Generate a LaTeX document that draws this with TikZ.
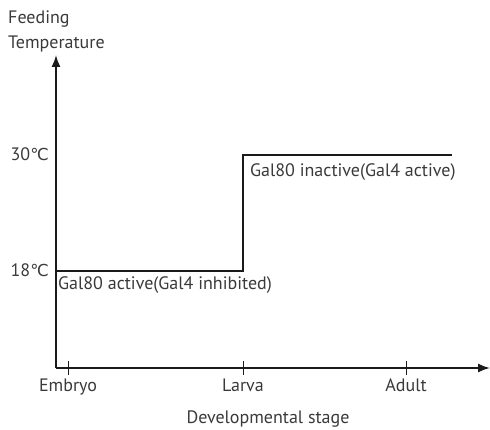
\documentclass[tikz,border=0pt]{standalone}
\usepackage{fontspec}
\setmainfont{PT Sans}
\newfontfamily\degfont{DejaVu Sans}
\usetikzlibrary{arrows.meta}
\definecolor{Label}{HTML}{3A3A3A}
\definecolor{Axis}{HTML}{1A1A1A}
\newcommand{\celsius}{{\degfont\fontsize{16.5}{18}\selectfont\char"2103}}

\begin{document}
\begin{tikzpicture}[x=1pt,y=-1pt]
    \useasboundingbox (0,0) rectangle (490,430);
    \tikzset{
      lbl/.style={text=Label,inner sep=0pt,font=\fontsize{18}{20}\selectfont},
      axis/.style={draw=Axis,line width=1.6pt,-{Latex[length=12pt,width=9pt]}},
      level/.style={draw=Axis,line width=1.6pt}
    }
    \coordinate (origin) at (56,368);
    \coordinate (ytip) at (56,55);
    \coordinate (xtip) at (490,368);

    \draw[axis] (origin) -- (ytip);
    \draw[axis] (origin) -- (xtip);

    \foreach \x/\name/\lab in {68/embryo/Embryo,243/larva/Larva,406/adult/Adult}{
      \draw[Axis,line width=1pt] (\x,361) -- (\x,375);
      \node[lbl,anchor=base] (\name) at (\x,391) {\lab};
    }

    \draw[level] (56,271) -- (243,271) -- (243,155) -- (452,155);

    \node[lbl,anchor=base west] (feed) at (8,24) {Feeding};
    \node[lbl,anchor=base west] (temp) at (8,49) {Temperature};
    \node[lbl,anchor=base east] (hot) at (49,161) {30\celsius};
    \node[lbl,anchor=base east] (cold) at (49,277) {18\celsius};
    \node[lbl,anchor=base west] (on) at (58,290) {Gal80 active(Gal4 inhibited)};
    \node[lbl,anchor=base west] (off) at (250,177) {Gal80 inactive(Gal4 active)};
    \node[lbl,anchor=base] (stage) at (268,423) {Developmental stage};
  \end{tikzpicture}
\end{document}
